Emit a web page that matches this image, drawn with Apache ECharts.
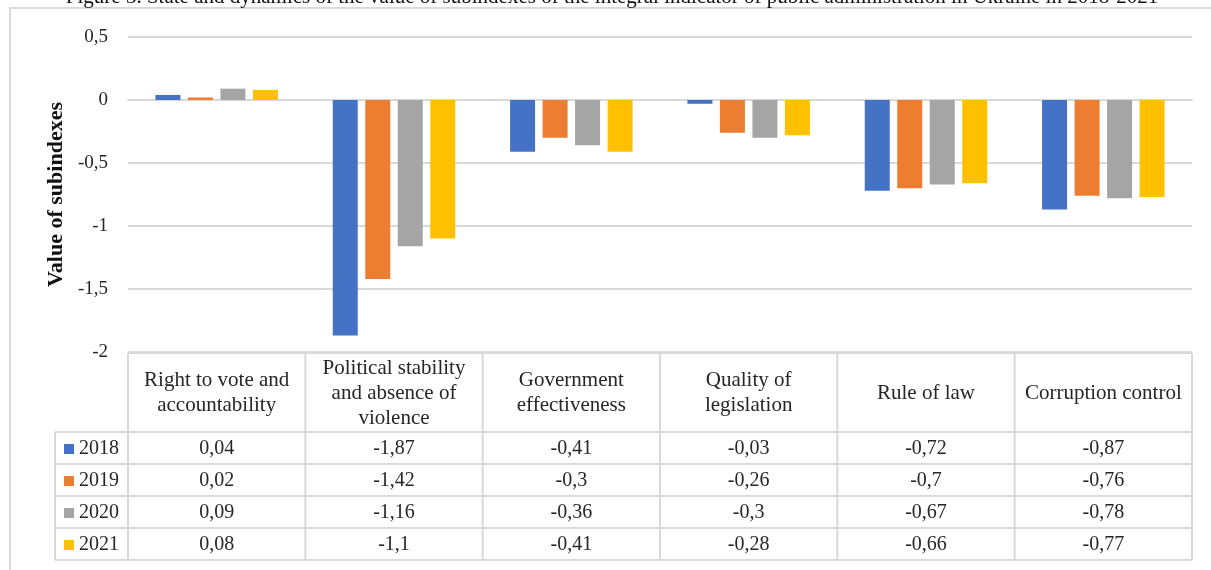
<!DOCTYPE html>
<html>
<head>
<meta charset="utf-8">
<script src="https://cdn.jsdelivr.net/npm/echarts@6/dist/echarts.min.js"></script>
<style>
  html, body { margin: 0; padding: 0; background: #fff; }
  #chart { width: 1211px; height: 570px; }
</style>
</head>
<body>
<div id="chart"></div>
<script>
// subindex names (table header)
var categories = ['Right to vote and\naccountability', 'Political stability\nand absence of\nviolence',
  'Government\neffectiveness', 'Quality of\nlegislation', 'Rule of law', 'Corruption control'];
var years = ['2018', '2019', '2020', '2021'];
var v2018 = [0.04, -1.87, -0.41, -0.03, -0.72, -0.87];
var v2019 = [0.02, -1.42, -0.3, -0.26, -0.7, -0.76];
var v2020 = [0.09, -1.16, -0.36, -0.3, -0.67, -0.78];
var v2021 = [0.08, -1.1, -0.41, -0.28, -0.66, -0.77];
var yearColors = ['#4472C4', '#ED7D31', '#A5A5A5', '#FFC000'];

var allValues = [v2018, v2019, v2020, v2021];
var font = '"Liberation Serif", "Times New Roman", serif';
var lineColor = '#d9d9d9';
var textColor = '#262626';

// plot / table geometry
var plotLeft = 128, plotRight = 1192, plotTop = 37, plotBottom = 352;
var legendLeft = 55, headerBottom = 432, rowH = 32;
var colW = (plotRight - plotLeft) / categories.length;

function fmt(v) { return String(v).replace('.', ','); }

var graphics = [];
// outer chart frame
graphics.push({ type: 'rect', shape: { x: 10, y: 8, width: 1300, height: 700 },
  style: { fill: 'none', stroke: lineColor, lineWidth: 2 }, silent: true });
// table lines
function hline(x1, x2, y) {
  graphics.push({ type: 'line', shape: { x1: x1, y1: y, x2: x2, y2: y },
    style: { stroke: lineColor, lineWidth: 2 }, silent: true });
}
function vline(x, y1, y2) {
  graphics.push({ type: 'line', shape: { x1: x, y1: y1, x2: x, y2: y2 },
    style: { stroke: lineColor, lineWidth: 2 }, silent: true });
}
var tableBottom = headerBottom + rowH * years.length;
hline(plotLeft, plotRight, plotBottom + 1);
for (var r = 0; r <= years.length; r++) hline(legendLeft, plotRight, headerBottom + r * rowH);
vline(legendLeft, headerBottom, tableBottom);
for (var c = 0; c <= categories.length; c++) vline(plotLeft + c * colW, plotBottom + 1, tableBottom);

// header cells
categories.forEach(function (name, i) {
  graphics.push({ type: 'text', x: plotLeft + (i + 0.5) * colW, y: (plotBottom + headerBottom) / 2 + 1,
    style: { text: name, font: '21px ' + font, fill: textColor, align: 'center', verticalAlign: 'middle', lineHeight: 25 },
    silent: true });
});
// rows: legend key + values
years.forEach(function (yr, r) {
  var cy = headerBottom + (r + 0.5) * rowH + 1;
  graphics.push({ type: 'rect', shape: { x: 64, y: cy - 5, width: 10, height: 10 },
    style: { fill: yearColors[r] }, silent: true });
  graphics.push({ type: 'text', x: 79, y: cy,
    style: { text: yr, font: '20px ' + font, fill: textColor, align: 'left', verticalAlign: 'middle' }, silent: true });
  allValues[r].forEach(function (v, i) {
    graphics.push({ type: 'text', x: plotLeft + (i + 0.5) * colW, y: cy,
      style: { text: fmt(v), font: '20px ' + font, fill: textColor, align: 'center', verticalAlign: 'middle' },
      silent: true });
  });
});
// figure caption (partly cut off at top)
graphics.push({ type: 'text', x: 612, y: -3,
  style: { text: 'Figure 3. State and dynamics of the value of subindexes of the integral indicator of public administration in Ukraine in 2018-2021',
    font: '21px ' + font, fill: '#111', align: 'center', verticalAlign: 'middle' }, silent: true });

var chart = echarts.init(document.getElementById('chart'), null, { renderer: 'canvas' });
chart.setOption({
  animation: false,
  backgroundColor: '#fff',
  grid: { left: plotLeft, right: 1211 - plotRight, top: plotTop, bottom: 570 - plotBottom, containLabel: false },
  xAxis: {
    type: 'category',
    data: categories,
    axisLine: { show: true, onZero: true, lineStyle: { color: lineColor, width: 2 } },
    axisTick: { show: false },
    axisLabel: { show: false },
    splitLine: { show: false }
  },
  yAxis: {
    type: 'value',
    min: -2, max: 0.5, interval: 0.5,
    name: 'Value of subindexes',
    nameLocation: 'middle',
    nameGap: 58,
    nameTextStyle: { fontFamily: font, fontSize: 22, fontWeight: 'bold', color: '#111' },
    axisLine: { show: false },
    axisTick: { show: false },
    axisLabel: { fontFamily: font, fontSize: 19, color: textColor, margin: 20, formatter: fmt },
    splitLine: { lineStyle: { color: lineColor, width: 2 } }
  },
  series: years.map(function (yr, r) {
    return {
      name: yr, type: 'bar', data: allValues[r],
      barWidth: 25, barGap: '30%',
      itemStyle: { color: yearColors[r] }
    };
  }),
  graphic: graphics
});
</script>
</body>
</html>
